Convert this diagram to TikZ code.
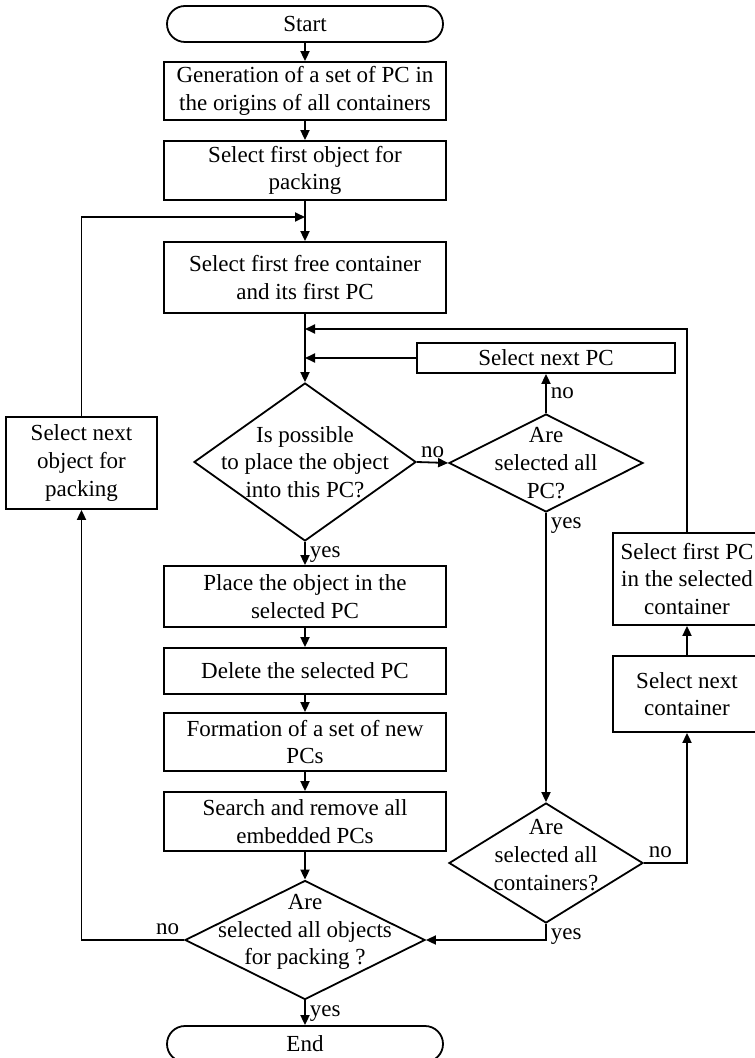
\documentclass[tikz,border=0pt]{standalone}
\usepackage{fontspec}
\setmainfont{Liberation Serif}
\usetikzlibrary{arrows.meta, shapes.geometric}

\begin{document}
\begin{tikzpicture}[
    x=0.5pt, y=-0.5pt,
    font=\fontsize{11.5}{13.8}\selectfont,
    line width=0.9pt,
    box/.style={draw, rectangle, align=center, inner sep=0pt,
                minimum width=141pt},
    sidebox/.style={draw, rectangle, align=center, inner sep=0pt,
                minimum width=74pt, minimum height=46pt},
    term/.style={draw, rounded corners=9pt, minimum width=138pt,
                 minimum height=18pt, inner sep=0pt},
    dec/.style={draw, diamond, inner sep=0pt},
    lbl/.style={inner sep=2pt},
    arr/.style={-{Triangle[length=5pt, width=4.5pt]}}
  ]
    \useasboundingbox (0,0) rectangle (754,1058);

    % main column
    \node[term] (start) at (305, 24) {Start};
    \node[box, minimum height=29pt] (gen) at (305, 91) {Generation of a set of PC in\\the origins of all containers};
    \node[box, minimum height=29.5pt] (firstobj) at (305, 170.5) {Select first object for\\packing};
    \node[box, minimum height=35.5pt] (freecont) at (305, 277.5) {Select first free container\\and its first PC};
    \node[dec, minimum width=111pt, minimum height=79pt,
          label={[align=center]center:{Is possible\\to place the object\\into this PC?}}] (d1) at (305, 462) {};
    \node[box, minimum height=30.5pt] (place) at (305, 596.5) {Place the object in the\\selected PC};
    \node[box, minimum height=23pt] (delete) at (305, 671) {Delete the selected PC};
    \node[box, minimum height=29pt] (form) at (305, 742) {Formation of a set of new\\PCs};
    \node[box, minimum height=29.5pt] (search) at (305, 821.5) {Search and remove all\\embedded PCs};
    \node[dec, minimum width=120pt, minimum height=59.5pt,
          label={[align=center, yshift=4pt]center:{Are\\selected all objects\\for packing ?}}] (d4) at (305, 940) {};
    \node[term] (end) at (305, 1044) {End};

    % left loop
    \node[sidebox, minimum width=75.5pt] (nextobj) at (81.5, 463) {Select next\\object for\\packing};

    % right part
    \node[box, minimum width=129pt, minimum height=15pt] (nextpc) at (546, 358) {Select next PC};
    \node[dec, minimum width=97pt, minimum height=49pt,
          label={[align=center]center:{Are\\selected all\\PC?}}] (d2) at (546, 463) {};
    \node[dec, minimum width=97pt, minimum height=60pt,
          label={[align=center, yshift=4pt]center:{Are\\selected all\\containers?}}] (d3) at (546, 863) {};
    \node[sidebox] (firstpc) at (687, 579) {Select first PC\\in the selected\\container};
    \node[sidebox, minimum height=38pt] (nextcont) at (687, 694) {Select next\\container};

    \coordinate (j1) at (305, 217);
    \coordinate (j2) at (305, 329);
    \coordinate (j3) at (305, 358);

    \draw[arr] (start) -- (gen);
    \draw[arr] (gen) -- (firstobj);
    \draw[arr] (firstobj) -- (freecont);
    \draw[arr] (freecont) -- (d1);
    \draw[arr] (d1.south) -- node[lbl, below right, pos=0] {yes} (place);
    \draw[arr] (place) -- (delete);
    \draw[arr] (delete) -- (form);
    \draw[arr] (form) -- (search);
    \draw[arr] (search) -- (d4);
    \draw[arr] (d4.south) -- node[lbl, below right, pos=0] {yes} (end);

    \draw[arr] (d1.east) -- node[lbl, above] {no} (d2.west);
    \draw[arr] (d2.north) -- node[lbl, right] {no} (nextpc.south);
    \draw[arr] (nextpc.west) -- (j3);
    \draw[arr] (d2.south) -- node[lbl, below right, pos=0] {yes} (d3.north);
    \draw[arr] (d3.east) -| node[lbl, above right, pos=0] {no} (nextcont.south);
    \draw[arr] (nextcont) -- (firstpc);
    \draw[arr] (firstpc.north) |- (j2);
    \draw[arr] (d3.south) |- node[lbl, below right, pos=0] {yes} (d4.east);

    \draw[arr] (d4.west) -| node[lbl, above left, pos=0] {no} (nextobj.south);
    \draw[arr] (nextobj.north) |- (j1);
  \end{tikzpicture}
\end{document}
